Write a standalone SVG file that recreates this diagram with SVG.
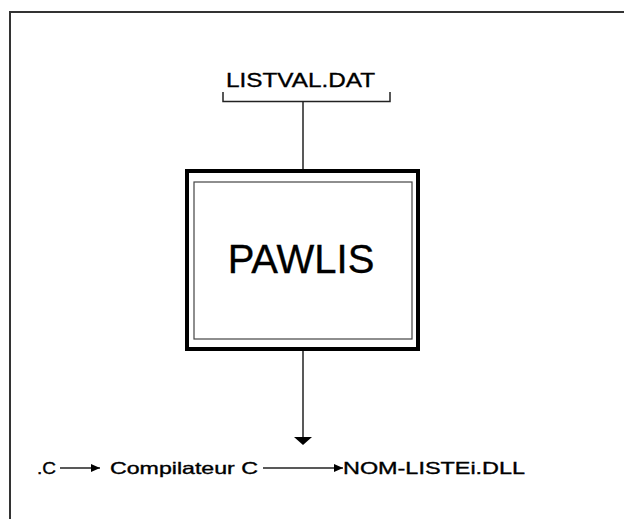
<svg xmlns="http://www.w3.org/2000/svg" width="624" height="519" viewBox="0 0 624 519">
  <style>
    .frame { fill: none; stroke: #333; stroke-width: 2; }
    .line { fill: none; stroke: #222; stroke-width: 1.5; }
    .label { font-family: "Liberation Sans", Arial, sans-serif; fill: #000; stroke: #000; stroke-width: 0.35; }
    .flow { font-size: 16.5px; }
  </style>
  <defs>
    <marker id="arrow" markerWidth="9" markerHeight="8" refX="9" refY="4" orient="auto" markerUnits="userSpaceOnUse">
      <path d="M0,0 L9,4 L0,8 Z" fill="#000"/>
    </marker>
  </defs>
  <rect width="624" height="519" fill="#fff"/>
  <!-- page frame -->
  <path class="frame" d="M10,519 V12 H624"/>

  <g id="listval">
    <text class="label" x="226" y="87" font-size="20" textLength="149" lengthAdjust="spacingAndGlyphs">LISTVAL.DAT</text>
    <path class="line" d="M223,92 V101.5 H390 V92"/>
  </g>

  <g id="pawlis">
    <rect x="187" y="171" width="231" height="178" fill="#fff" stroke="#000" stroke-width="4"/>
    <rect x="194" y="182" width="218" height="157" fill="none" stroke="#444" stroke-width="1.2"/>
    <text class="label" x="301" y="273" font-size="40" text-anchor="middle" stroke-width="0.6">PAWLIS</text>
  </g>

  <g id="output">
    <text class="label flow" x="37" y="474" textLength="19" lengthAdjust="spacingAndGlyphs">.C</text>
    <text class="label flow" x="110" y="474" textLength="148" lengthAdjust="spacingAndGlyphs">Compilateur C</text>
    <text class="label flow" x="343" y="474" textLength="182" lengthAdjust="spacingAndGlyphs">NOM-LISTEi.DLL</text>
  </g>

  <g id="connectors">
    <line class="line" x1="303" y1="101.5" x2="303" y2="169"/>
    <line class="line" x1="303" y1="351" x2="303" y2="437"/>
    <path d="M294,437 H312 L303,445 Z" fill="#000"/>
    <line class="line" x1="60" y1="468" x2="100" y2="468" marker-end="url(#arrow)"/>
    <line class="line" x1="263" y1="468" x2="343" y2="468" marker-end="url(#arrow)"/>
  </g>
</svg>
